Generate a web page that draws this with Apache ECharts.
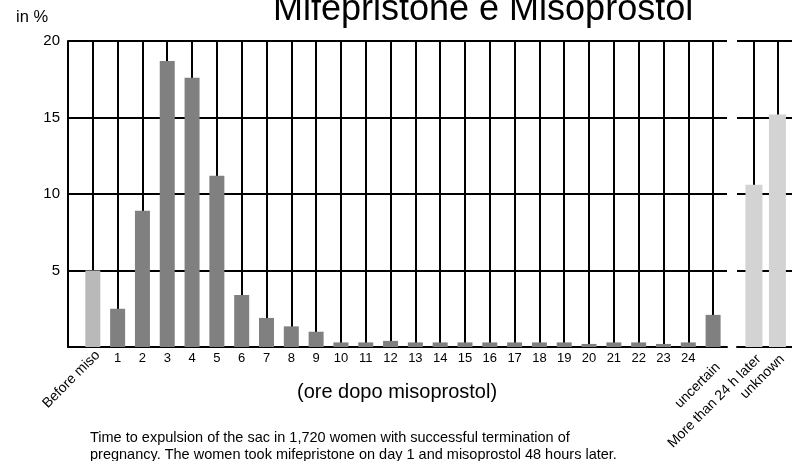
<!DOCTYPE html>
<html>
<head>
<meta charset="utf-8">
<script src="https://cdn.jsdelivr.net/npm/echarts@6/dist/echarts.min.js"></script>
<style>
  html, body { margin: 0; padding: 0; background: #fff; }
  #chart { width: 792px; height: 461px; }
</style>
</head>
<body>
<div id="chart"></div>
<script>
// categories (ore dopo misoprostol)
const hourLabels = ['Before miso', '1', '2', '3', '4', '5', '6', '7', '8', '9', '10', '11', '12',
  '13', '14', '15', '16', '17', '18', '19', '20', '21', '22', '23', '24', 'uncertain']
const hourValues = [5.0, 2.5, 8.9, 18.7, 17.6, 11.2, 3.4, 1.9, 1.35, 1.0, 0.3, 0.3, 0.4,
  0.3, 0.3, 0.3, 0.3, 0.3, 0.3, 0.3, 0.2, 0.3, 0.3, 0.2, 0.3, 2.1]
// right-hand panel
const otherLabels = ['More than 24 h later', 'unknown']
const otherValues = [10.6, 15.2]

const chart = echarts.init(document.getElementById('chart'))

const black = '#000'
const font = 'Liberation Sans, Arial, Helvetica, sans-serif'

const idx = hourLabels.map((_, i) => i)
const numIdx = idx.filter(i => /^\d+$/.test(hourLabels[i]))
const firstIdx = [0]
const lastIdx = [hourLabels.length - 1]

// rotated word label axis (no line, no ticks)
const wordAxis = (values, margin) => ({
  type: 'value', gridIndex: 0, min: -1, max: 25.56, position: 'bottom',
  axisLine: { show: false },
  axisTick: { show: false },
  axisLabel: {
    customValues: values, margin: margin, rotate: 45, verticalAlign: 'top',
    fontSize: 14, color: '#000',
    formatter: v => hourLabels[v] || ''
  },
  splitLine: { show: false }
})

const option = {
  backgroundColor: '#fff',
  animation: false,
  textStyle: { fontFamily: font, color: '#000' },
  title: [
    {
      text: 'Mifepristone e Misoprostol',
      left: 273, top: -8, padding: 0,
      textStyle: { fontSize: 36, fontWeight: 'normal', color: '#000', fontFamily: font }
    },
    {
      text: 'in %',
      left: 16, top: 9, padding: 0,
      textStyle: { fontSize: 16.5, fontWeight: 'normal', color: '#000', fontFamily: font }
    },
    {
      text: '(ore dopo misoprostol)',
      left: 297, top: 382, padding: 0,
      textStyle: { fontSize: 20, fontWeight: 'normal', color: '#000', fontFamily: font }
    },
    {
      text: 'Time to expulsion of the sac in 1,720 women with successful termination of\npregnancy. The women took mifepristone on day 1 and misoprostol 48 hours later.',
      left: 90, top: 429, padding: 0,
      textStyle: { fontSize: 14.5, lineHeight: 17, fontWeight: 'normal', color: '#000', fontFamily: font }
    }
  ],
  grid: [
    { left: 68, top: 41, width: 659, height: 306 },
    { left: 737, top: 41, right: 0, height: 306 }
  ],
  xAxis: [
    {
      type: 'value', gridIndex: 0, min: -1, max: 25.56,
      axisLine: { show: true, onZero: false, lineStyle: { color: black, width: 2 } },
      axisTick: { show: true, inside: true, length: 306, customValues: idx, lineStyle: { color: black, width: 2 } },
      axisLabel: {
        customValues: numIdx, margin: 5, fontSize: 13, color: '#000',
        formatter: v => hourLabels[v] || ''
      },
      splitLine: { show: false }
    },
    wordAxis(firstIdx, 1),
    wordAxis(lastIdx, 13),
    {
      type: 'value', gridIndex: 1, min: -0.72, max: 1.62,
      axisLine: { show: true, onZero: false, lineStyle: { color: black, width: 2 } },
      axisTick: { show: true, inside: true, length: 306, customValues: [0, 1], lineStyle: { color: black, width: 2 } },
      axisLabel: {
        customValues: [0, 1], margin: 5, rotate: 45, verticalAlign: 'top',
        fontSize: 14, color: '#000',
        formatter: v => otherLabels[v] || ''
      },
      splitLine: { show: false }
    }
  ],
  yAxis: [
    {
      type: 'value', gridIndex: 0, min: 0, max: 20, interval: 5,
      axisLine: { show: true, onZero: false, lineStyle: { color: black, width: 2 } },
      axisTick: { show: false },
      axisLabel: { margin: 8, fontSize: 15, color: '#000', formatter: v => (v === 0 ? '' : v) },
      splitLine: { show: true, lineStyle: { color: black, width: 2 } }
    },
    {
      type: 'value', gridIndex: 1, min: 0, max: 20, interval: 5,
      axisLine: { show: false },
      axisTick: { show: false },
      axisLabel: { show: false },
      splitLine: { show: true, lineStyle: { color: black, width: 2 } }
    }
  ],
  series: [
    {
      name: 'ore',
      type: 'bar',
      xAxisIndex: 0,
      yAxisIndex: 0,
      barWidth: 15,
      data: hourValues.map((v, i) => [i, v]),
      itemStyle: {
        color: p => (p.dataIndex === 0 ? '#b9b9b9' : '#808080')
      }
    },
    {
      name: 'altro',
      type: 'bar',
      xAxisIndex: 3,
      yAxisIndex: 1,
      barWidth: 17,
      data: otherValues.map((v, i) => [i, v]),
      itemStyle: { color: '#d3d3d3' }
    }
  ]
}

chart.setOption(option)
</script>
</body>
</html>
